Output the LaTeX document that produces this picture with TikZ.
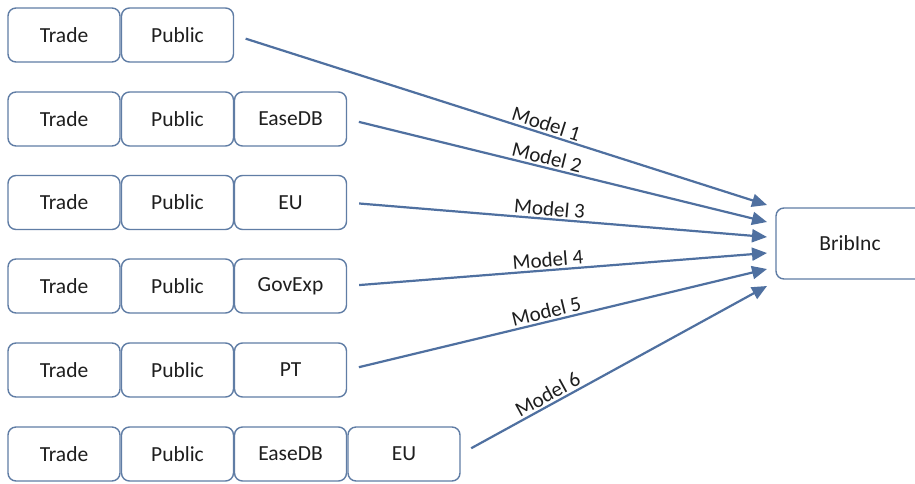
\documentclass[tikz,border=0pt]{standalone}
\usepackage{fontspec}
\setmainfont{Carlito}
\usetikzlibrary{arrows.meta}
\definecolor{boxc}{RGB}{96,125,165}
\definecolor{arrc}{RGB}{79,112,160}
\definecolor{txtc}{RGB}{30,30,30}
\tikzset{
  varbox/.style={draw=boxc, line width=1.4pt, rounded corners=8pt, minimum width=112pt, minimum height=54pt, inner sep=0pt, text=txtc, font=\fontsize{21.5}{25}\selectfont},
  conn/.style={draw=arrc, line width=2.2pt, -{Triangle[length=15pt,width=13pt]}, shorten <=12pt},
  mlabel/.style={text=txtc, font=\fontsize{21}{24}\selectfont, sloped, above, inner sep=2pt}
}
\begin{document}
\begin{tikzpicture}[x=1pt,y=-1pt]
\useasboundingbox (0,0) rectangle (915,483);
\fill[white] (0,0) rectangle (915,483);
% row 1
\node[varbox] (t1) at (64,35) {Trade};
\node[varbox] (p1) at (177.5,35) {Public};
% row 2
\node[varbox] (t2) at (64,119) {Trade};
\node[varbox] (p2) at (177.5,119) {Public};
\node[varbox] (e2) at (290.5,119) {EaseDB};
% row 3
\node[varbox] (t3) at (64,202.5) {Trade};
\node[varbox] (p3) at (177.5,202.5) {Public};
\node[varbox] (e3) at (290.5,202.5) {EU};
% row 4
\node[varbox] (t4) at (64,286) {Trade};
\node[varbox] (p4) at (177.5,286) {Public};
\node[varbox] (e4) at (290.5,286) {GovExp};
% row 5
\node[varbox] (t5) at (64,370) {Trade};
\node[varbox] (p5) at (177.5,370) {Public};
\node[varbox] (e5) at (290.5,370) {PT};
% row 6
\node[varbox] (t6) at (64,454) {Trade};
\node[varbox] (p6) at (177.5,454) {Public};
\node[varbox] (e6) at (290.5,454) {EaseDB};
\node[varbox] (u6) at (404,454) {EU};
% target
\node[varbox, minimum width=148pt, minimum height=71pt] (brib) at (850,243.5) {BribInc};
% arrow targets
\coordinate (a1) at (767,205);
\coordinate (a2) at (767,222);
\coordinate (a3) at (767,237);
\coordinate (a4) at (767,253);
\coordinate (a5) at (767,269);
\coordinate (a6) at (767,286);
% connectors
\draw[conn] (p1.east) -- node[mlabel, pos=0.58] {Model 1} (a1);
\draw[conn] (e2.east) -- node[mlabel, pos=0.47] {Model 2} (a2);
\draw[conn] (e3.east) -- node[mlabel, pos=0.48] {Model 3} (a3);
\draw[conn] (e4.east) -- node[mlabel, pos=0.48] {Model 4} (a4);
\draw[conn] (e5.east) -- node[mlabel, pos=0.48] {Model 5} (a5);
\draw[conn] (u6.east) -- node[mlabel, pos=0.30] {Model 6} (a6);
\end{tikzpicture}
\end{document}
